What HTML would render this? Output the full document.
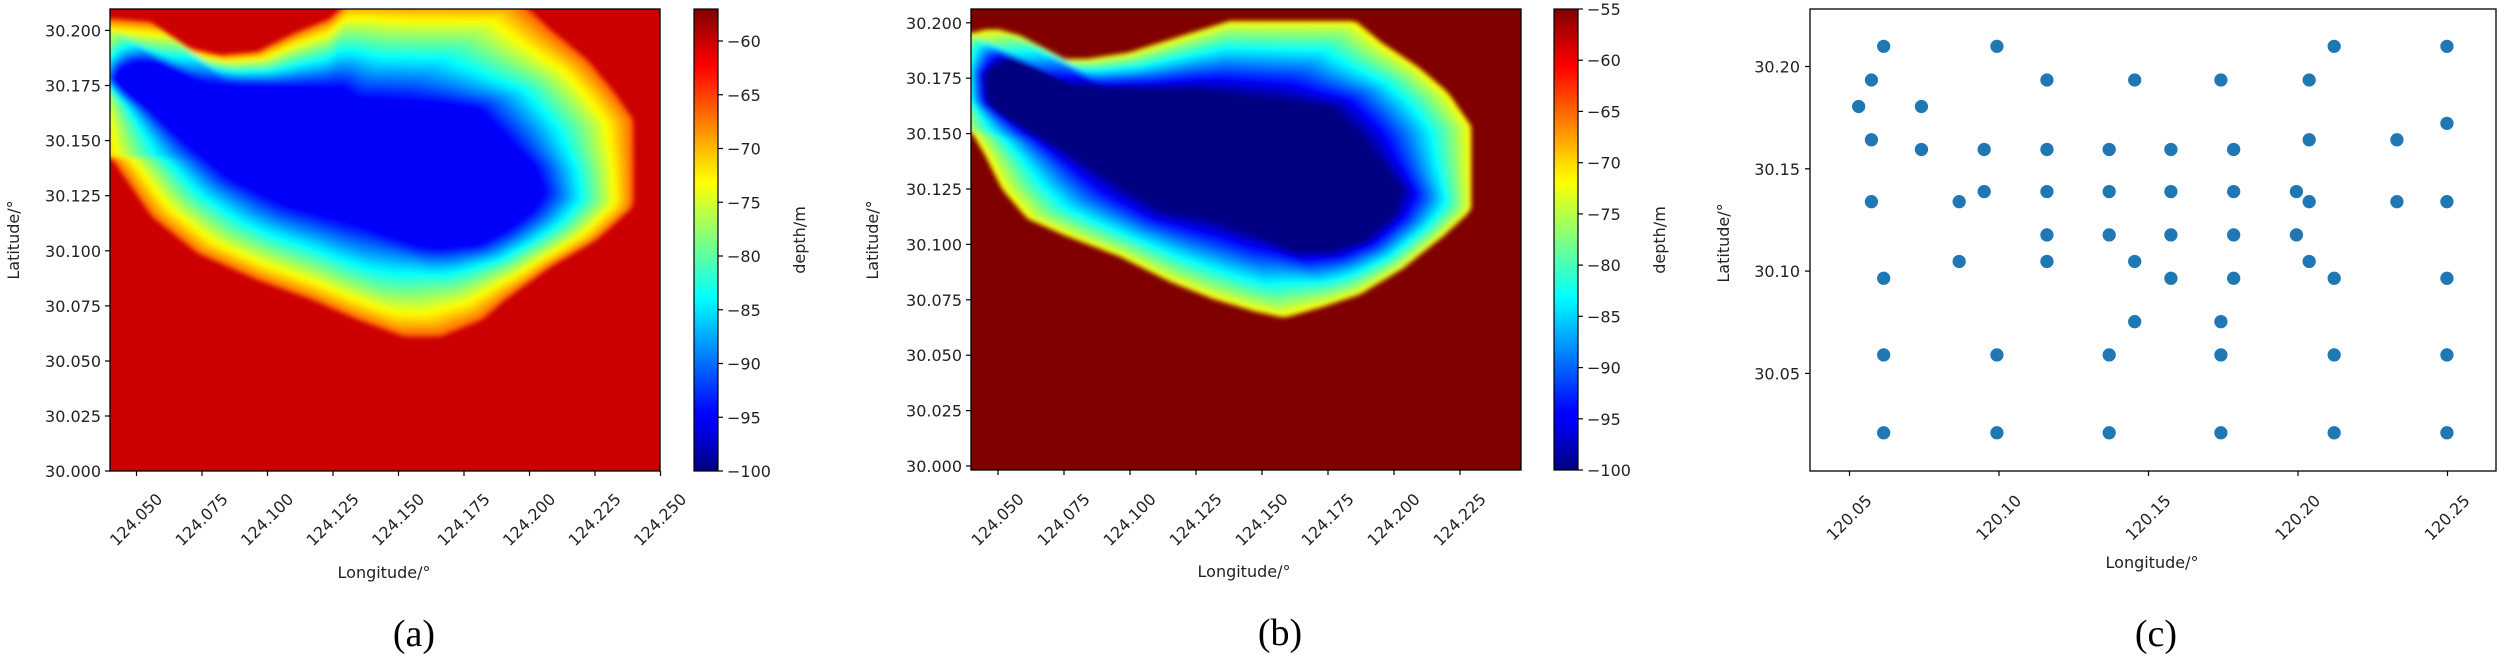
<!DOCTYPE html>
<html><head><meta charset="utf-8"><style>
html,body{margin:0;padding:0;background:#fff;}
svg{display:block;}
text{font-family:"DejaVu Sans","Liberation Sans",sans-serif;font-size:16px;fill:#222;}
.cap{font-family:"Liberation Serif",serif;font-size:38px;fill:#000;}
</style></head><body>
<svg id="s" width="2500" height="660" viewBox="0 0 2500 660" xmlns="http://www.w3.org/2000/svg">
<defs>
<clipPath id="ca"><rect x="110" y="9" width="550" height="462"/></clipPath>
<clipPath id="cb"><rect x="971" y="9" width="550" height="461"/></clipPath>
<filter id="bl" x="-5%" y="-5%" width="110%" height="110%"><feGaussianBlur stdDeviation="2.5"/></filter>
<linearGradient id="jet" x1="0" y1="1" x2="0" y2="0">
<stop offset="0" stop-color="#00007f"/><stop offset="0.11" stop-color="#0000ff"/><stop offset="0.125" stop-color="#0000ff"/>
<stop offset="0.34" stop-color="#00dcff"/><stop offset="0.375" stop-color="#00ffff"/>
<stop offset="0.5" stop-color="#80ff80"/><stop offset="0.625" stop-color="#ffff00"/><stop offset="0.66" stop-color="#ffe000"/>
<stop offset="0.875" stop-color="#ff0000"/><stop offset="0.9" stop-color="#e80000"/><stop offset="1" stop-color="#7f0000"/>
</linearGradient>
</defs>

<!-- Panel a -->
<rect x="110" y="9" width="550" height="462" fill="#cc0000"/>
<g id="blobA" clip-path="url(#ca)"></g>
<rect x="110" y="9" width="550" height="462" fill="none" stroke="#000" stroke-width="1.3"/>
<g stroke="#000" stroke-width="1.2">
<line x1="105" y1="30.4" x2="110" y2="30.4"/><line x1="105" y1="85.5" x2="110" y2="85.5"/><line x1="105" y1="140.6" x2="110" y2="140.6"/><line x1="105" y1="195.7" x2="110" y2="195.7"/><line x1="105" y1="250.8" x2="110" y2="250.8"/><line x1="105" y1="305.9" x2="110" y2="305.9"/><line x1="105" y1="361" x2="110" y2="361"/><line x1="105" y1="416" x2="110" y2="416"/><line x1="105" y1="471" x2="110" y2="471"/>
<line x1="136.5" y1="471" x2="136.5" y2="476"/><line x1="202" y1="471" x2="202" y2="476"/><line x1="267.5" y1="471" x2="267.5" y2="476"/><line x1="333" y1="471" x2="333" y2="476"/><line x1="398.5" y1="471" x2="398.5" y2="476"/><line x1="464" y1="471" x2="464" y2="476"/><line x1="529.5" y1="471" x2="529.5" y2="476"/><line x1="595" y1="471" x2="595" y2="476"/><line x1="660.5" y1="471" x2="660.5" y2="476"/>
</g>
<g text-anchor="end">
<text x="101" y="36.4">30.200</text><text x="101" y="91.5">30.175</text><text x="101" y="146.6">30.150</text><text x="101" y="201.7">30.125</text><text x="101" y="256.8">30.100</text><text x="101" y="311.9">30.075</text><text x="101" y="367">30.050</text><text x="101" y="422">30.025</text><text x="101" y="477">30.000</text>
</g>
<g text-anchor="middle">
<text transform="translate(136.5,520) rotate(-45)" dy="5">124.050</text>
<text transform="translate(202,520) rotate(-45)" dy="5">124.075</text>
<text transform="translate(267.5,520) rotate(-45)" dy="5">124.100</text>
<text transform="translate(333,520) rotate(-45)" dy="5">124.125</text>
<text transform="translate(398.5,520) rotate(-45)" dy="5">124.150</text>
<text transform="translate(464,520) rotate(-45)" dy="5">124.175</text>
<text transform="translate(529.5,520) rotate(-45)" dy="5">124.200</text>
<text transform="translate(595,520) rotate(-45)" dy="5">124.225</text>
<text transform="translate(660.5,520) rotate(-45)" dy="5">124.250</text>
<text x="384" y="578">Longitude/°</text>
<text transform="translate(19,240) rotate(-90)">Latitude/°</text>
<text class="cap" x="414" y="646">(a)</text>
</g>
<rect x="694" y="9" width="24" height="462" fill="url(#jet)" stroke="#000" stroke-width="1.2"/>
<g stroke="#000" stroke-width="1.2">
<line x1="718" y1="41" x2="723" y2="41"/><line x1="718" y1="94.75" x2="723" y2="94.75"/><line x1="718" y1="148.5" x2="723" y2="148.5"/><line x1="718" y1="202.25" x2="723" y2="202.25"/><line x1="718" y1="256" x2="723" y2="256"/><line x1="718" y1="309.75" x2="723" y2="309.75"/><line x1="718" y1="363.5" x2="723" y2="363.5"/><line x1="718" y1="417.25" x2="723" y2="417.25"/><line x1="718" y1="471" x2="723" y2="471"/>
</g>
<g>
<text x="727" y="47">−60</text><text x="727" y="100.75">−65</text><text x="727" y="154.5">−70</text><text x="727" y="208.25">−75</text><text x="727" y="262">−80</text><text x="727" y="315.75">−85</text><text x="727" y="369.5">−90</text><text x="727" y="423.25">−95</text><text x="727" y="477">−100</text>
</g>
<text text-anchor="middle" transform="translate(805,240) rotate(-90)">depth/m</text>

<!-- Panel b -->
<rect x="971" y="9" width="550" height="461" fill="#800000"/>
<g id="blobB" clip-path="url(#cb)"></g>
<rect x="971" y="9" width="550" height="461" fill="none" stroke="#000" stroke-width="1.3"/>
<g stroke="#000" stroke-width="1.2">
<line x1="966" y1="466" x2="971" y2="466"/><line x1="966" y1="410.6" x2="971" y2="410.6"/><line x1="966" y1="355.2" x2="971" y2="355.2"/><line x1="966" y1="299.8" x2="971" y2="299.8"/><line x1="966" y1="244.4" x2="971" y2="244.4"/><line x1="966" y1="189" x2="971" y2="189"/><line x1="966" y1="133.6" x2="971" y2="133.6"/><line x1="966" y1="78.2" x2="971" y2="78.2"/><line x1="966" y1="22.8" x2="971" y2="22.8"/>
<line x1="998" y1="470" x2="998" y2="475"/><line x1="1064" y1="470" x2="1064" y2="475"/><line x1="1130" y1="470" x2="1130" y2="475"/><line x1="1196" y1="470" x2="1196" y2="475"/><line x1="1262" y1="470" x2="1262" y2="475"/><line x1="1328" y1="470" x2="1328" y2="475"/><line x1="1394" y1="470" x2="1394" y2="475"/><line x1="1460" y1="470" x2="1460" y2="475"/>
</g>
<g text-anchor="end">
<text x="962" y="472">30.000</text><text x="962" y="416.6">30.025</text><text x="962" y="361.2">30.050</text><text x="962" y="305.8">30.075</text><text x="962" y="250.4">30.100</text><text x="962" y="195">30.125</text><text x="962" y="139.6">30.150</text><text x="962" y="84.2">30.175</text><text x="962" y="28.8">30.200</text>
</g>
<g text-anchor="middle">
<text transform="translate(998,520) rotate(-45)" dy="5">124.050</text>
<text transform="translate(1064,520) rotate(-45)" dy="5">124.075</text>
<text transform="translate(1130,520) rotate(-45)" dy="5">124.100</text>
<text transform="translate(1196,520) rotate(-45)" dy="5">124.125</text>
<text transform="translate(1262,520) rotate(-45)" dy="5">124.150</text>
<text transform="translate(1328,520) rotate(-45)" dy="5">124.175</text>
<text transform="translate(1394,520) rotate(-45)" dy="5">124.200</text>
<text transform="translate(1460,520) rotate(-45)" dy="5">124.225</text>
<text x="1244" y="577">Longitude/°</text>
<text transform="translate(878,240) rotate(-90)">Latitude/°</text>
<text class="cap" x="1280" y="645">(b)</text>
</g>
<rect x="1554" y="9" width="24" height="461" fill="url(#jet)" stroke="#000" stroke-width="1.2"/>
<g stroke="#000" stroke-width="1.2">
<line x1="1578" y1="9" x2="1583" y2="9"/><line x1="1578" y1="60.2" x2="1583" y2="60.2"/><line x1="1578" y1="111.4" x2="1583" y2="111.4"/><line x1="1578" y1="162.7" x2="1583" y2="162.7"/><line x1="1578" y1="213.9" x2="1583" y2="213.9"/><line x1="1578" y1="265.1" x2="1583" y2="265.1"/><line x1="1578" y1="316.3" x2="1583" y2="316.3"/><line x1="1578" y1="367.6" x2="1583" y2="367.6"/><line x1="1578" y1="418.8" x2="1583" y2="418.8"/><line x1="1578" y1="470" x2="1583" y2="470"/>
</g>
<g>
<text x="1587" y="15">−55</text><text x="1587" y="66.2">−60</text><text x="1587" y="117.4">−65</text><text x="1587" y="168.7">−70</text><text x="1587" y="219.9">−75</text><text x="1587" y="271.1">−80</text><text x="1587" y="322.3">−85</text><text x="1587" y="373.6">−90</text><text x="1587" y="424.8">−95</text><text x="1587" y="476">−100</text>
</g>
<text text-anchor="middle" transform="translate(1665,240) rotate(-90)">depth/m</text>

<!-- Panel c -->
<rect x="1810" y="9" width="686" height="462" fill="none" stroke="#000" stroke-width="1.3"/>
<g stroke="#000" stroke-width="1.2">
<line x1="1805" y1="66.5" x2="1810" y2="66.5"/><line x1="1805" y1="168.8" x2="1810" y2="168.8"/><line x1="1805" y1="271.1" x2="1810" y2="271.1"/><line x1="1805" y1="373.4" x2="1810" y2="373.4"/>
<line x1="1849.5" y1="471" x2="1849.5" y2="476"/><line x1="1999" y1="471" x2="1999" y2="476"/><line x1="2148.5" y1="471" x2="2148.5" y2="476"/><line x1="2298" y1="471" x2="2298" y2="476"/><line x1="2447.5" y1="471" x2="2447.5" y2="476"/>
</g>
<g text-anchor="end">
<text x="1800" y="72.5">30.20</text><text x="1800" y="174.8">30.15</text><text x="1800" y="277.1">30.10</text><text x="1800" y="379.4">30.05</text>
</g>
<g text-anchor="middle">
<text transform="translate(1849.5,518) rotate(-45)" dy="5">120.05</text>
<text transform="translate(1999,518) rotate(-45)" dy="5">120.10</text>
<text transform="translate(2148.5,518) rotate(-45)" dy="5">120.15</text>
<text transform="translate(2298,518) rotate(-45)" dy="5">120.20</text>
<text transform="translate(2447.5,518) rotate(-45)" dy="5">120.25</text>
<text x="2152" y="568">Longitude/°</text>
<text transform="translate(1729,243) rotate(-90)">Latitude/°</text>
<text class="cap" x="2156" y="646">(c)</text>
</g>
<g fill="#1f77b4" transform="translate(1700,0) scale(0.5102,0.421)">
<ellipse cx="360" cy="110" rx="13" ry="15.7"/><ellipse cx="582" cy="110" rx="13" ry="15.7"/><ellipse cx="1243" cy="110" rx="13" ry="15.7"/><ellipse cx="1464" cy="110" rx="13" ry="15.7"/>
<ellipse cx="336" cy="190" rx="13" ry="15.7"/><ellipse cx="680" cy="190" rx="13" ry="15.7"/><ellipse cx="852" cy="190" rx="13" ry="15.7"/><ellipse cx="1021" cy="190" rx="13" ry="15.7"/><ellipse cx="1194" cy="190" rx="13" ry="15.7"/>
<ellipse cx="311" cy="253" rx="13" ry="15.7"/><ellipse cx="434" cy="253" rx="13" ry="15.7"/>
<ellipse cx="1464" cy="293" rx="13" ry="15.7"/>
<ellipse cx="336" cy="332" rx="13" ry="15.7"/><ellipse cx="1194" cy="332" rx="13" ry="15.7"/><ellipse cx="1366" cy="332" rx="13" ry="15.7"/>
<ellipse cx="434" cy="355" rx="13" ry="15.7"/><ellipse cx="557" cy="355" rx="13" ry="15.7"/><ellipse cx="680" cy="355" rx="13" ry="15.7"/><ellipse cx="802" cy="355" rx="13" ry="15.7"/><ellipse cx="923" cy="355" rx="13" ry="15.7"/><ellipse cx="1046" cy="355" rx="13" ry="15.7"/>
<ellipse cx="557" cy="455" rx="13" ry="15.7"/><ellipse cx="680" cy="455" rx="13" ry="15.7"/><ellipse cx="802" cy="455" rx="13" ry="15.7"/><ellipse cx="923" cy="455" rx="13" ry="15.7"/><ellipse cx="1046" cy="455" rx="13" ry="15.7"/><ellipse cx="1169" cy="455" rx="13" ry="15.7"/>
<ellipse cx="336" cy="479" rx="13" ry="15.7"/><ellipse cx="508" cy="479" rx="13" ry="15.7"/><ellipse cx="1194" cy="479" rx="13" ry="15.7"/><ellipse cx="1366" cy="479" rx="13" ry="15.7"/><ellipse cx="1464" cy="479" rx="13" ry="15.7"/>
<ellipse cx="680" cy="558" rx="13" ry="15.7"/><ellipse cx="802" cy="558" rx="13" ry="15.7"/><ellipse cx="923" cy="558" rx="13" ry="15.7"/><ellipse cx="1046" cy="558" rx="13" ry="15.7"/><ellipse cx="1169" cy="558" rx="13" ry="15.7"/>
<ellipse cx="508" cy="621" rx="13" ry="15.7"/><ellipse cx="680" cy="621" rx="13" ry="15.7"/><ellipse cx="852" cy="621" rx="13" ry="15.7"/><ellipse cx="1194" cy="621" rx="13" ry="15.7"/>
<ellipse cx="360" cy="661" rx="13" ry="15.7"/><ellipse cx="923" cy="661" rx="13" ry="15.7"/><ellipse cx="1046" cy="661" rx="13" ry="15.7"/><ellipse cx="1243" cy="661" rx="13" ry="15.7"/><ellipse cx="1464" cy="661" rx="13" ry="15.7"/>
<ellipse cx="852" cy="764" rx="13" ry="15.7"/><ellipse cx="1021" cy="764" rx="13" ry="15.7"/>
<ellipse cx="360" cy="843" rx="13" ry="15.7"/><ellipse cx="582" cy="843" rx="13" ry="15.7"/><ellipse cx="802" cy="843" rx="13" ry="15.7"/><ellipse cx="1021" cy="843" rx="13" ry="15.7"/><ellipse cx="1243" cy="843" rx="13" ry="15.7"/><ellipse cx="1464" cy="843" rx="13" ry="15.7"/>
<ellipse cx="360" cy="1028" rx="13" ry="15.7"/><ellipse cx="582" cy="1028" rx="13" ry="15.7"/><ellipse cx="802" cy="1028" rx="13" ry="15.7"/><ellipse cx="1021" cy="1028" rx="13" ry="15.7"/><ellipse cx="1243" cy="1028" rx="13" ry="15.7"/><ellipse cx="1464" cy="1028" rx="13" ry="15.7"/>
</g>
</svg>
<script>
(function(){
var NS="http://www.w3.org/2000/svg";
function cl(x){return Math.max(0,Math.min(1,x));}
function jet(v){var r=cl(1.5-Math.abs(4*v-3)),g=cl(1.5-Math.abs(4*v-2)),b=cl(1.5-Math.abs(4*v-1));
return "rgb("+Math.round(r*255)+","+Math.round(g*255)+","+Math.round(b*255)+")";}
function ray(poly,cx,cy,a){var dx=Math.cos(a),dy=Math.sin(a),best=0;
for(var i=0;i<poly.length;i++){var p=poly[i],q=poly[(i+1)%poly.length];
var ex=q[0]-p[0],ey=q[1]-p[1],den=dx*ey-dy*ex;if(Math.abs(den)<1e-9)continue;
var wx=p[0]-cx,wy=p[1]-cy;var t=(wx*ey-wy*ex)/den,s=(wx*dy-wy*dx)/den;
if(t>0&&s>=0&&s<=1&&t>best)best=t;}return best;}
function build(gid,outer,core,cx,cy,vOut,vCore,N){
var g=document.getElementById(gid);var gg=document.createElementNS(NS,"g");gg.setAttribute("filter","url(#bl)");
var M=240,ro=[],rc=[];for(var k=0;k<M;k++){var a=2*Math.PI*k/M;ro.push(ray(outer,cx,cy,a));rc.push(ray(core,cx,cy,a));}
for(var i=0;i<=N;i++){var t=i/N;var pts=[];
for(var k=0;k<M;k++){var a=2*Math.PI*k/M;var r=ro[k]+(rc[k]-ro[k])*t;pts.push((cx+r*Math.cos(a)).toFixed(1)+","+(cy+r*Math.sin(a)).toFixed(1));}
var p=document.createElementNS(NS,"polygon");p.setAttribute("points",pts.join(" "));
var tt=Math.pow(t,0.9);p.setAttribute("fill",jet(vOut+(vCore-vOut)*tt));gg.appendChild(p);}
g.appendChild(gg);}
function mapA(l){return l.map(function(p){return [p[0]/2.178,p[1]/3];});}
function mapB(l){return l.map(function(p){return [960+p[0]/2.376,p[1]/2.376];});}
var aOut=mapA([[200,55],[240,55],[330,65],[400,140],[480,165],[560,155],[640,100],[720,55],[760,0],[1130,0],[1200,90],[1280,180],[1340,280],[1380,360],[1380,620],[1300,720],[1200,800],[1100,900],[1050,960],[960,1010],[880,1010],[780,960],[680,900],[560,840],[430,760],[330,650],[280,550],[240,470],[200,470]]);
var aCore=mapA([[260,200],[300,180],[350,185],[400,220],[460,250],[750,260],[780,290],[930,300],[1040,320],[1100,400],[1170,500],[1190,580],[1160,640],[1100,700],[1040,740],[950,750],[900,740],[780,680],[620,620],[500,540],[400,430],[320,330],[270,280],[245,240]]);
build("blobA",aOut,aCore,321,160,0.78,0.12,34);
var bOut=mapB([[0,80],[25,80],[60,70],[110,70],[180,100],[230,140],[300,140],[400,125],[480,100],[560,75],[640,50],[940,50],[1000,100],[1090,160],[1160,220],[1215,300],[1215,500],[1150,560],[1050,640],[950,700],[860,730],[770,755],[700,740],[600,710],[500,670],[380,610],[250,560],[160,520],[100,450],[60,370],[25,310],[0,310]]);
var bCore=mapB([[60,180],[100,145],[150,145],[200,175],[260,210],[560,215],[770,240],[880,255],[950,320],[1010,400],[1050,450],[1030,510],[960,570],[880,595],[790,595],[700,555],[600,520],[480,500],[350,420],[220,340],[130,290],[70,250]]);
build("blobB",bOut,bCore,1212,160,0.63,0.0,34);
})();
</script>
</body></html>
